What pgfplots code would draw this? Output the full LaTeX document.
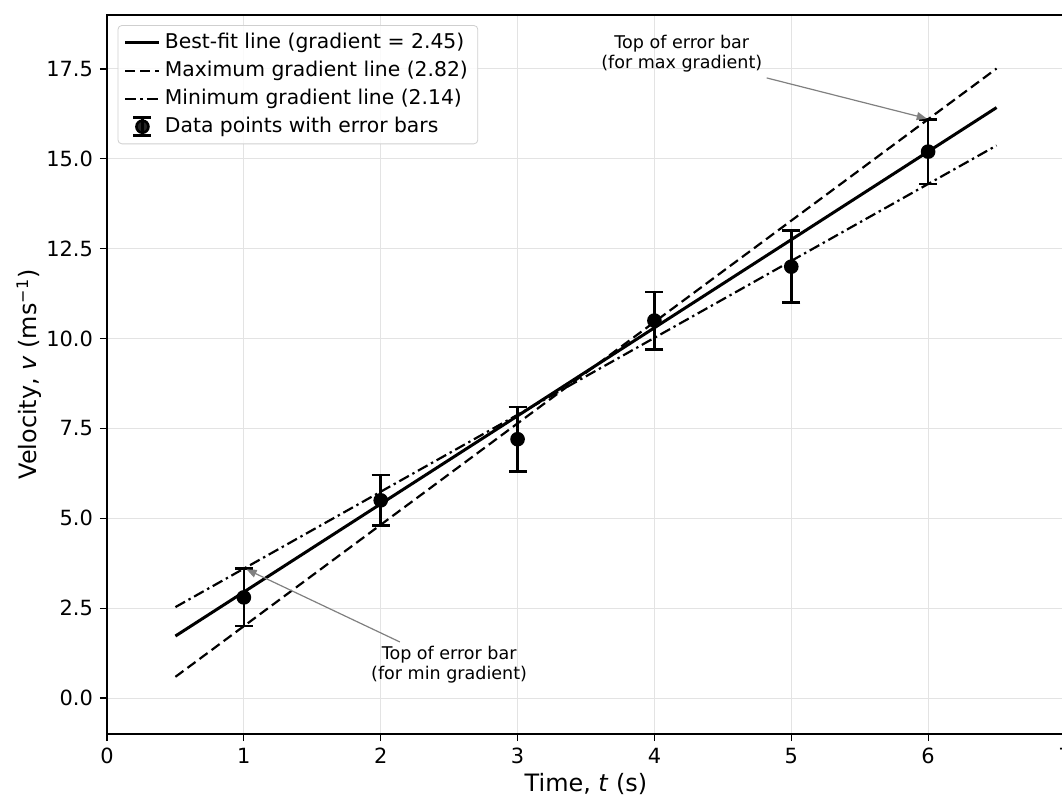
\documentclass[border=0pt]{standalone}
\usepackage{pgfplots}
\pgfplotsset{compat=1.18}
\usepackage{fontspec}
\setmainfont{DejaVu Sans}
\usetikzlibrary{calc,arrows.meta}
\definecolor{gridgray}{HTML}{E3E3E3}
\definecolor{anngray}{HTML}{808080}
\begin{document}
\begin{tikzpicture}
\begin{axis}[
  scale only axis,
  width=479bp, height=359.5bp,
  xmin=0, xmax=7, ymin=-1, ymax=19,
  xtick={0,1,2,3,4,5,6,7},
  ytick={0,2.5,5,7.5,10,12.5,15,17.5},
  yticklabel style={/pgf/number format/.cd, fixed, fixed zerofill, precision=1},
  /pgf/number format/assume math mode=true,
  tick label style={font=\fontsize{10.5}{12}\selectfont},
  label style={font=\fontsize{12}{14}\selectfont},
  xlabel={Time, \textit{t} (s)},
  ylabel={Velocity, \textit{v} (ms\textsuperscript{−1})},
  xlabel style={yshift=2pt},
  ylabel style={yshift=-4.5pt},
  tick align=outside,
  xtick pos=bottom, ytick pos=left,
  major tick length=3.5bp,
  every tick/.style={black, line width=0.6bp},
  axis line style={line width=0.8bp},
  grid=major,
  major grid style={gridgray, line width=0.5bp},
  legend cell align=left,
  legend style={font=\fontsize{10.2}{12}\selectfont, draw=gridgray!80!gray, rounded corners=2bp, fill=white, fill opacity=0.85, text opacity=1, at={(0.011,0.986)}, anchor=north west, inner xsep=3bp, inner ysep=2bp, row sep=0.8bp},
]
\coordinate (sw) at (rel axis cs:0,0);
\addplot[black, line width=1.5bp] coordinates {(0.5,1.725) (6.5,16.425)};
\addlegendentry{Best-fit line (gradient = 2.45)}
\addplot[black, line width=1.1bp, dash pattern=on 5bp off 2.5bp] coordinates {(0.5,0.59) (6.5,17.51)};
\addlegendentry{Maximum gradient line (2.82)}
\addplot[black, line width=1.1bp, dash pattern=on 5.5bp off 2bp on 1.2bp off 2bp] coordinates {(0.5,2.53) (6.5,15.37)};
\addlegendentry{Minimum gradient line (2.14)}
\addplot[black, only marks, mark=*, mark size=3bp, line width=1.3bp,
  legend image code/.code={
    \draw[black, line width=1.3bp] (0.3cm,-4.5bp) -- (0.3cm,4.5bp);
    \draw[black, line width=1.3bp] (0.3cm-4.5bp,-4.5bp) -- (0.3cm+4.5bp,-4.5bp);
    \draw[black, line width=1.3bp] (0.3cm-4.5bp,4.5bp) -- (0.3cm+4.5bp,4.5bp);
    \fill[black] (0.3cm,0) circle (3bp);
  },
  error bars/.cd, y dir=both, y explicit,
  error bar style={line width=1.3bp},
  error mark options={rotate=90, mark size=4.5bp, line width=1.3bp},
  ] coordinates {
  (1,2.8) +- (0,0.8)
  (2,5.5) +- (0,0.7)
  (3,7.2) +- (0,0.9)
  (4,10.5) +- (0,0.8)
  (5,12.0) +- (0,1.0)
  (6,15.2) +- (0,0.9)
};
\addlegendentry{Data points with error bars}
\draw[anngray, line width=0.6bp, -{Stealth[length=5bp,width=4bp,inset=0pt]}] (axis cs:4.82,17.25) -- (axis cs:5.99,16.12);
\node[align=center, font=\fontsize{8.8}{10}\selectfont, inner sep=0pt] at (axis cs:4.20,17.92) {Top of error bar\\(for max gradient)};
\draw[anngray, line width=0.6bp, -{Stealth[length=5bp,width=4bp,inset=0pt]}] (axis cs:2.14,1.56) -- (axis cs:1.02,3.58);
\node[align=center, font=\fontsize{8.8}{10}\selectfont, inner sep=0pt] at (axis cs:2.50,0.94) {Top of error bar\\(for min gradient)};
\end{axis}
\pgfresetboundingbox
\path ($(sw)+(-53.5bp,-32bp)$) rectangle ($(sw)+(477.5bp,367bp)$);
\end{tikzpicture}
\end{document}
